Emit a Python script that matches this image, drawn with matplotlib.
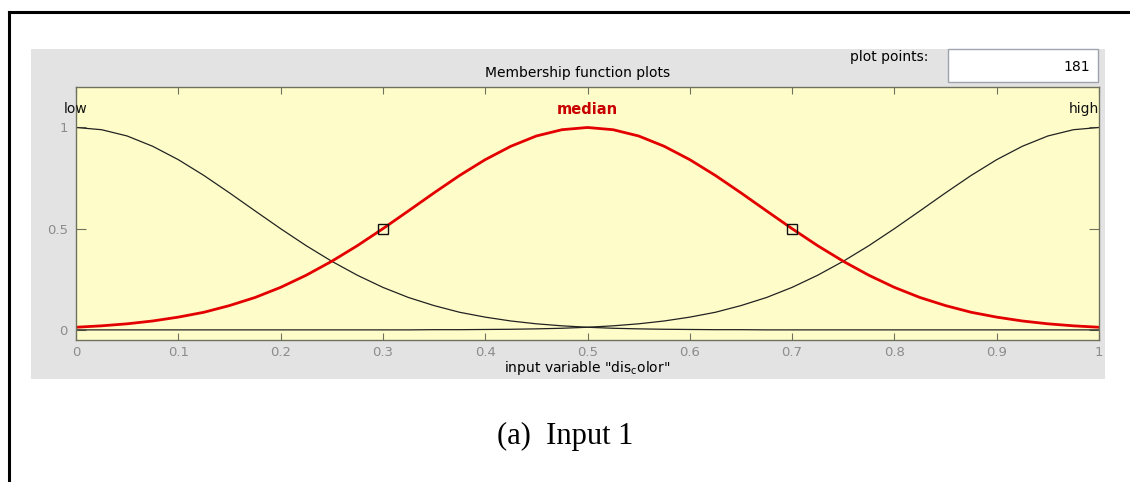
import matplotlib
matplotlib.use("Agg")
import matplotlib.pyplot as plt
import numpy as np
from matplotlib.lines import Line2D
from matplotlib.patches import Rectangle

plt.rcParams["font.family"] = ["DejaVu Sans"]
plt.rcParams["mathtext.fontset"] = "dejavusans"

# membership degrees sampled on x = 0, 0.025, ..., 1
mf_x = np.linspace(0.0, 1.0, 41)
low_mf = [1.000, 0.989, 0.958, 0.907, 0.841, 0.763, 0.677, 0.588, 0.500, 0.416,
          0.339, 0.270, 0.210, 0.160, 0.120, 0.087, 0.063, 0.044, 0.030, 0.020,
          0.013, 0.008, 0.005, 0.003, 0.002, 0.001, 0.001, 0.000, 0.000, 0.000,
          0.000, 0.000, 0.000, 0.000, 0.000, 0.000, 0.000, 0.000, 0.000, 0.000,
          0.000]
median_mf = [0.013, 0.020, 0.030, 0.044, 0.063, 0.087, 0.120, 0.160, 0.210, 0.270,
             0.339, 0.416, 0.500, 0.588, 0.677, 0.763, 0.841, 0.907, 0.958, 0.989,
             1.000, 0.989, 0.958, 0.907, 0.841, 0.763, 0.677, 0.588, 0.500, 0.416,
             0.339, 0.270, 0.210, 0.160, 0.120, 0.087, 0.063, 0.044, 0.030, 0.020,
             0.013]
high_mf = [0.000, 0.000, 0.000, 0.000, 0.000, 0.000, 0.000, 0.000, 0.000, 0.000,
           0.000, 0.000, 0.000, 0.000, 0.001, 0.001, 0.002, 0.003, 0.005, 0.008,
           0.013, 0.020, 0.030, 0.044, 0.063, 0.087, 0.120, 0.160, 0.210, 0.270,
           0.339, 0.416, 0.500, 0.588, 0.677, 0.763, 0.841, 0.907, 0.958, 0.989,
           1.000]

# half-height handles on the selected function
handle_x = [0.3, 0.7]
handle_y = [0.5, 0.5]

mf_names = ["low", "median", "high"]
mf_peaks = [0.0, 0.5, 1.0]
x_ticks = [0, 0.1, 0.2, 0.3, 0.4, 0.5, 0.6, 0.7, 0.8, 0.9, 1]
x_tick_labels = ["0", "0.1", "0.2", "0.3", "0.4", "0.5", "0.6", "0.7", "0.8", "0.9", "1"]
y_ticks = [0, 0.5, 1]
y_tick_labels = ["0", "0.5", "1"]
plot_points = "181"

W, H = 1130, 482


def fx(px):
    return px / W


def fy(py):
    return 1 - py / H


fig = plt.figure(figsize=(W / 100, H / 100), dpi=100)
fig.patch.set_facecolor("white")

# frame of the figure page
fig.add_artist(Line2D([fx(9), fx(9)], [fy(12), fy(482)], color="black", lw=2.2))
fig.add_artist(Line2D([fx(9), fx(1130)], [fy(12), fy(12)], color="black", lw=2.2))

# grey editor panel
fig.add_artist(Rectangle((fx(31), fy(379)), fx(1105) - fx(31), fy(49) - fy(379),
                         transform=fig.transFigure, facecolor="#e3e3e3",
                         edgecolor="none", zorder=0))
# plot points edit box
fig.add_artist(Rectangle((fx(948), fy(82)), fx(1098) - fx(948), fy(49) - fy(82),
                         transform=fig.transFigure, facecolor="white",
                         edgecolor="#9ea3ad", lw=1.0, zorder=1))
fig.text(fx(1090), fy(67), plot_points, ha="right", va="center", fontsize=10)
fig.text(fx(928), fy(57), "plot points:", ha="right", va="center", fontsize=10)
fig.text(fx(578), fy(73), "Membership function plots", ha="center", va="center",
         fontsize=10)

ax = fig.add_axes([fx(76), fy(340), fx(1099) - fx(76), fy(87) - fy(340)])
ax.set_facecolor("#fefdca")
ax.set_xlim(0, 1)
ax.set_ylim(-0.05, 1.2)

ax.plot(mf_x, low_mf, color="#222222", lw=0.9)
ax.plot(mf_x, high_mf, color="#222222", lw=0.9)
ax.plot(mf_x, median_mf, color="#e30000", lw=2.0)
ax.plot(handle_x, handle_y, ls="none", marker="s", ms=7, mfc="none",
        mec="#111111", mew=1.0)

name_colors = ["#111111", "#c80000", "#111111"]
name_weights = ["normal", "bold", "normal"]
name_ha = ["center", "center", "right"]
name_sizes = [10, 10.5, 10]
for name, peak, c, w, ha, fs in zip(mf_names, mf_peaks, name_colors, name_weights,
                                    name_ha, name_sizes):
    ax.text(peak, 1.09, name, color=c, fontweight=w, ha=ha, va="center",
            fontsize=fs, clip_on=False)

spine_color = "#6f705e"
for s in ax.spines.values():
    s.set_color(spine_color)
    s.set_linewidth(1.0)

ax.set_xticks(x_ticks)
ax.set_xticklabels(x_tick_labels)
ax.set_yticks(y_ticks)
ax.set_yticklabels(y_tick_labels)
ax.tick_params(axis="x", direction="in", length=5, width=0.8, color=spine_color,
               top=True, labelsize=9.5, labelcolor="#8c8c8c", pad=4)
ax.tick_params(axis="y", direction="in", length=7.5, width=0.8, color=spine_color,
               right=True, labelsize=9.5, labelcolor="#8c8c8c", pad=6)

ax.set_xlabel('input variable "dis$_\\mathregular{c}$olor"', fontsize=10, labelpad=0)

fig.text(fx(565), fy(436), "(a)  Input 1", ha="center", va="center",
         fontsize=22, family="Liberation Serif")

fig.savefig("out.png", dpi=100)
